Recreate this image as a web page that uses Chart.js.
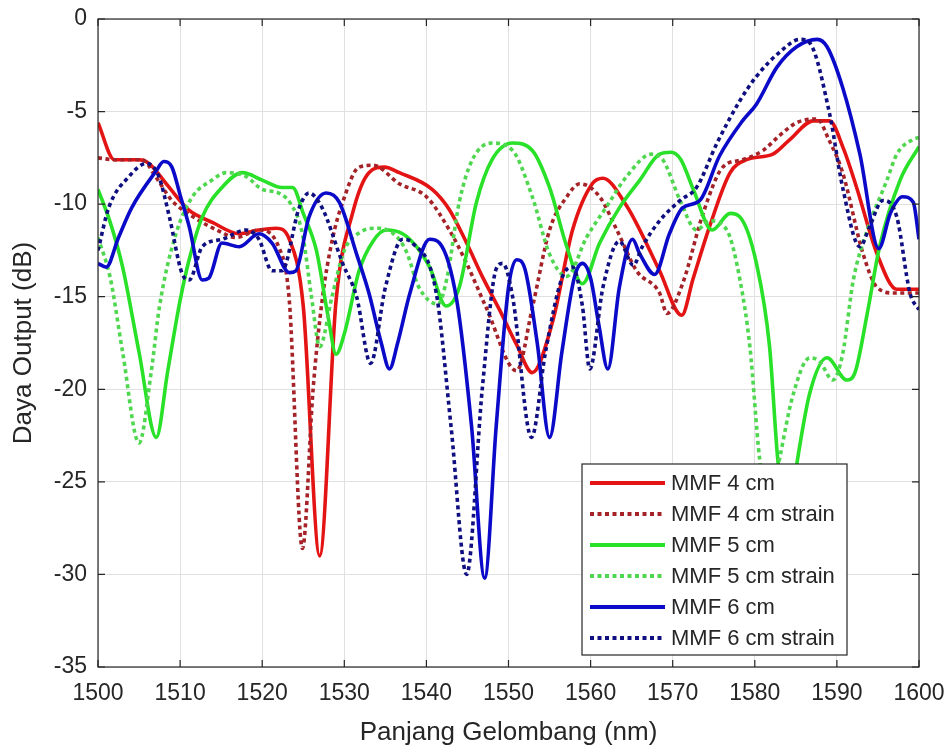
<!DOCTYPE html>
<html>
<head>
<meta charset="utf-8">
<script src="https://cdn.jsdelivr.net/npm/chart.js@4.4.0/dist/chart.umd.min.js"></script>
<style>
  body { margin: 0; background: #fff; }
  #wrap { width: 951px; height: 747px; }
</style>
</head>
<body>
<div id="wrap"><canvas id="graph1" width="951" height="747"></canvas></div>
<script>
// MMF 4 cm
var wl4 = [1500, 1502, 1505, 1506.2, 1508.5, 1511, 1514, 1517.2, 1519.5, 1521.7, 1523.3, 1525, 1527, 1529, 1531, 1533, 1534.9, 1536.7, 1540.7, 1542.8, 1544.9, 1546.8, 1548.9, 1551, 1552.9, 1555.4, 1557.8, 1560.2, 1561.5, 1564.4, 1566, 1568.4, 1571.1, 1572.5, 1574.5, 1577, 1579, 1582.2, 1584.3, 1587.1, 1589.1, 1590.8, 1592.4, 1594.9, 1597.3, 1600];
var p4 = [-5.6, -7.6, -7.6, -7.8, -9.0, -10.3, -11.0, -11.6, -11.4, -11.3, -11.9, -15.5, -29.0, -15.2, -10.5, -8.3, -8.0, -8.3, -9.2, -10.3, -12.1, -13.9, -15.7, -17.6, -19.1, -16.3, -11.4, -8.9, -8.6, -10.1, -11.4, -13.6, -16.0, -14.0, -11.2, -8.3, -7.6, -7.3, -6.5, -5.5, -5.5, -7.0, -9.1, -12.7, -14.6, -14.6];
// MMF 4 cm strain
var wl4s = [1500, 1502, 1505.4, 1507, 1509, 1512, 1514.5, 1516.8, 1519.6, 1522, 1523.3, 1524.9, 1526.2, 1527.3, 1528.5, 1529.8, 1531.8, 1533.5, 1536.7, 1540, 1542.8, 1544.9, 1547.3, 1551, 1552.9, 1555, 1557.1, 1558.7, 1561.1, 1563.2, 1565.6, 1568.4, 1569.3, 1571.2, 1573.7, 1576.1, 1578.5, 1581, 1583, 1585.1, 1587.6, 1589, 1590.7, 1593.2, 1594.9, 1597, 1600];
var p4s = [-7.5, -7.6, -7.6, -8.5, -9.8, -10.8, -11.4, -11.8, -11.4, -12.3, -15.2, -28.6, -20.0, -15.2, -12.0, -9.9, -8.0, -7.9, -8.9, -9.6, -11.4, -13.2, -15.6, -19.0, -15.6, -11.4, -9.6, -8.9, -9.6, -11.4, -13.6, -14.8, -15.9, -14.3, -10.5, -8.0, -7.6, -7.1, -6.3, -5.6, -5.4, -6.5, -8.3, -12.7, -14.5, -14.8, -14.8];
// MMF 5 cm
var wl5 = [1500, 1501.5, 1503, 1505, 1507.1, 1508.5, 1510, 1511.1, 1512.7, 1515.1, 1517.6, 1520, 1522.4, 1523.7, 1525, 1526.6, 1528, 1529, 1530, 1531.8, 1533.5, 1535.1, 1537.1, 1538.8, 1540.4, 1542.4, 1544, 1546.1, 1548, 1550.5, 1552.9, 1555, 1557.1, 1559, 1561.1, 1563.5, 1566, 1568.4, 1569.8, 1571, 1572.5, 1574.8, 1577, 1578.2, 1580.2, 1581.8, 1582.8, 1584, 1585.2, 1586.7, 1588.8, 1591.2, 1592.2, 1593.7, 1595.2, 1597.7, 1600];
var p5 = [-9.2, -11.0, -13.4, -18.0, -22.6, -19.0, -15.2, -13.0, -10.7, -9.1, -8.3, -8.7, -9.1, -9.1, -10.5, -12.5, -16.0, -18.1, -17.0, -13.6, -12.0, -11.4, -11.6, -12.3, -13.4, -15.5, -14.5, -9.9, -7.6, -6.7, -7.1, -9.1, -12.3, -14.3, -12.1, -10.2, -8.7, -7.3, -7.2, -7.6, -9.2, -11.4, -10.5, -10.7, -13.2, -17.7, -23.8, -27.5, -23.8, -20.2, -18.3, -19.5, -19.1, -15.9, -12.3, -8.7, -6.9];
// MMF 5 cm strain
var wl5s = [1500, 1501.5, 1503, 1505, 1506.5, 1507.5, 1509.5, 1511.5, 1513.9, 1515.6, 1518, 1520, 1522, 1523.5, 1524.9, 1526, 1527, 1528.5, 1530, 1532, 1534, 1536, 1537.5, 1539.1, 1541.4, 1542.5, 1544, 1545.6, 1548, 1550.5, 1552.9, 1555, 1557.1, 1559.5, 1562, 1564.4, 1567.4, 1568.8, 1570.9, 1572.9, 1574.5, 1576.6, 1578.2, 1579.4, 1580.6, 1581.8, 1583, 1584.6, 1586.7, 1587.9, 1589.5, 1590.7, 1592, 1593.7, 1596.1, 1597.3, 1599.3, 1600];
var p5s = [-11.8, -14.0, -18.0, -22.9, -19.0, -15.5, -11.6, -9.6, -8.7, -8.3, -8.5, -9.2, -9.4, -10.0, -11.6, -15.0, -17.7, -15.0, -12.5, -11.5, -11.3, -11.6, -12.5, -14.5, -15.4, -14.0, -9.9, -7.6, -6.7, -7.1, -9.6, -12.7, -13.9, -11.8, -10.1, -8.5, -7.3, -7.6, -9.8, -11.4, -10.9, -11.4, -14.1, -17.7, -23.8, -26.5, -23.8, -20.4, -18.3, -18.5, -19.5, -18.1, -14.1, -11.4, -8.7, -7.3, -6.5, -6.4];
// MMF 6 cm
var wl6 = [1500, 1501, 1502.5, 1504.1, 1507.1, 1508, 1509, 1510, 1511.1, 1512.7, 1513.5, 1515.1, 1517.2, 1519.6, 1521.2, 1523.3, 1524.1, 1525.7, 1527.8, 1529.4, 1531.5, 1533, 1534.5, 1535.5, 1536.5, 1538, 1540.4, 1541.6, 1543.7, 1545.5, 1547.1, 1548.5, 1550, 1551, 1552, 1553.5, 1555, 1556.5, 1558, 1559, 1560, 1561, 1562.1, 1563.5, 1565.1, 1566, 1567.8, 1569.6, 1571.2, 1573.3, 1575.7, 1578.5, 1580.2, 1582.7, 1585.1, 1587.6, 1588.8, 1590.7, 1592.8, 1595.1, 1596.5, 1598, 1599.3, 1600];
var p6 = [-13.2, -13.4, -11.8, -10.2, -8.2, -7.7, -8.0, -9.5, -11.2, -14.1, -14.0, -12.1, -12.3, -11.6, -12.1, -13.7, -13.6, -10.7, -9.4, -9.9, -12.7, -14.8, -17.5, -18.9, -17.5, -14.8, -11.9, -12.1, -15.2, -22.0, -30.2, -22.0, -14.5, -13.0, -13.5, -17.5, -22.6, -18.0, -14.0, -13.2, -14.0, -16.5, -18.9, -14.5, -11.9, -12.7, -13.8, -11.6, -10.2, -9.8, -7.4, -5.5, -4.6, -2.6, -1.5, -1.1, -1.5, -3.7, -7.3, -12.4, -10.5, -9.6, -9.9, -11.9];
// MMF 6 cm strain
var wl6s = [1500, 1501.3, 1503.8, 1505.9, 1507.4, 1508.7, 1510.2, 1511.1, 1512.7, 1515.1, 1518, 1519.6, 1521.2, 1522.4, 1524.5, 1525.7, 1527.3, 1529.8, 1531.5, 1533.2, 1535, 1537.1, 1538.3, 1541.2, 1543, 1544.9, 1546.8, 1548.5, 1549.3, 1550.5, 1552.8, 1554.5, 1556.5, 1557.8, 1559, 1559.9, 1561.5, 1563.5, 1565.2, 1566.3, 1568.4, 1570.9, 1572.9, 1575.4, 1578.2, 1580.2, 1583, 1585.5, 1586.7, 1589.1, 1590.7, 1592.8, 1594, 1595.6, 1597.3, 1598.9, 1600];
var p6s = [-12.5, -10.2, -8.5, -7.8, -8.5, -10.7, -13.7, -14.1, -12.3, -11.9, -11.4, -11.9, -13.6, -13.6, -10.2, -9.4, -10.2, -13.2, -15.0, -18.6, -14.5, -11.9, -12.1, -14.8, -22.0, -30.0, -20.0, -13.5, -13.2, -15.0, -22.6, -18.0, -14.0, -13.4, -15.5, -18.9, -14.5, -12.0, -13.3, -12.3, -10.9, -9.8, -9.1, -6.7, -4.4, -3.1, -1.8, -1.1, -1.3, -5.1, -9.1, -12.3, -11.2, -9.8, -10.7, -14.8, -15.7];

var xTicks = [1500, 1600, 10];
var yTicks = [-35, 0, 5];
var labels = ['MMF 4 cm', 'MMF 4 cm strain', 'MMF 5 cm', 'MMF 5 cm strain', 'MMF 6 cm', 'MMF 6 cm strain'];
var colors = ['rgb(228,20,20)', 'rgb(165,35,40)', 'rgb(40,225,40)', 'rgb(80,215,80)', 'rgb(10,10,200)', 'rgb(15,15,130)'];
var dotted = [false, true, false, true, false, true];

function pts(xs, ys) {
  return xs.map(function (x, i) { return { x: x, y: ys[i] }; });
}

var series = [pts(wl4, p4), pts(wl4s, p4s), pts(wl5, p5), pts(wl5s, p5s), pts(wl6, p6), pts(wl6s, p6s)];

var DASH = [4, 3.5];
var FONT = "'Liberation Sans', Arial, sans-serif";
var INK = '#262626';

const graphOneData = {
  datasets: series.map(function (d, i) {
    return {
      label: labels[i],
      data: d,
      borderColor: colors[i],
      backgroundColor: colors[i],
      borderWidth: 3.6,
      borderDash: dotted[i] ? DASH : [],
      pointRadius: 0,
      cubicInterpolationMode: 'monotone',
      order: 5 - i
    };
  })
};

// legend box inside the axes, plus matlab style frame and inward ticks
const boxPlugin = {
  id: 'boxPlugin',
  afterDatasetsDraw: function (chart) {
    var ctx = chart.ctx;
    var a = chart.chartArea;
    ctx.save();
    // frame
    ctx.strokeStyle = INK;
    ctx.lineWidth = 1.2;
    ctx.strokeRect(a.left, a.top, a.right - a.left, a.bottom - a.top);
    // ticks
    var xs = chart.scales.x, ys = chart.scales.y;
    ctx.beginPath();
    xs.ticks.forEach(function (t) {
      var px = xs.getPixelForValue(t.value);
      ctx.moveTo(px, a.bottom); ctx.lineTo(px, a.bottom - 7);
      ctx.moveTo(px, a.top); ctx.lineTo(px, a.top + 7);
    });
    ys.ticks.forEach(function (t) {
      var py = ys.getPixelForValue(t.value);
      ctx.moveTo(a.left, py); ctx.lineTo(a.left + 7, py);
      ctx.moveTo(a.right, py); ctx.lineTo(a.right - 7, py);
    });
    ctx.stroke();

    // legend
    var lx = 582, ly = 464, lw = 265, lh = 191;
    ctx.fillStyle = '#fff';
    ctx.fillRect(lx, ly, lw, lh);
    ctx.strokeStyle = INK;
    ctx.lineWidth = 1.2;
    ctx.strokeRect(lx, ly, lw, lh);
    ctx.font = '22px ' + FONT;
    ctx.textBaseline = 'middle';
    labels.forEach(function (lab, i) {
      var y = ly + 19 + i * 31;
      ctx.beginPath();
      ctx.strokeStyle = colors[i];
      ctx.lineWidth = 4;
      ctx.setLineDash(dotted[i] ? DASH : []);
      ctx.moveTo(lx + 8, y);
      ctx.lineTo(lx + 83, y);
      ctx.stroke();
      ctx.setLineDash([]);
      ctx.fillStyle = INK;
      ctx.fillText(lab, lx + 89, y + 1);
    });
    ctx.restore();
  }
};

const configOne = {
  type: 'line',
  data: graphOneData,
  options: {
    responsive: false,
    animation: false,
    layout: { padding: { left: 0, right: 32, top: 19, bottom: 0 } },
    plugins: {
      legend: { display: false },
      tooltip: { enabled: false }
    },
    scales: {
      x: {
        type: 'linear',
        min: xTicks[0],
        max: xTicks[1],
        afterFit: function (s) { s.height = 80; s.paddingLeft = 0; s.paddingRight = 0; },
        ticks: { stepSize: xTicks[2], color: INK, padding: 13, font: { family: FONT, size: 23 }, maxRotation: 0,
          callback: function (v) { return String(v); } },
        grid: { color: '#e0e0e0', drawTicks: false },
        border: { display: false },
        title: { display: true, text: 'Panjang Gelombang (nm)', color: INK, font: { family: FONT, size: 26, lineHeight: 1 }, padding: { top: 0, bottom: 1 } }
      },
      y: {
        type: 'linear',
        min: yTicks[0],
        max: yTicks[1],
        afterFit: function (s) { s.width = 98; s.paddingTop = 0; s.paddingBottom = 0; },
        ticks: { stepSize: yTicks[2], color: INK, padding: 11, font: { family: FONT, size: 23 },
          callback: function (v) { return String(v); } },
        grid: { color: '#e0e0e0', drawTicks: false },
        border: { display: false },
        title: { display: true, text: 'Daya Output (dB)', color: INK, font: { family: FONT, size: 26, lineHeight: 1 }, padding: { top: 11, bottom: 0 } }
      }
    }
  },
  plugins: [boxPlugin]
};

var myChart = new Chart(document.getElementById('graph1'), configOne);
</script>
</body>
</html>
